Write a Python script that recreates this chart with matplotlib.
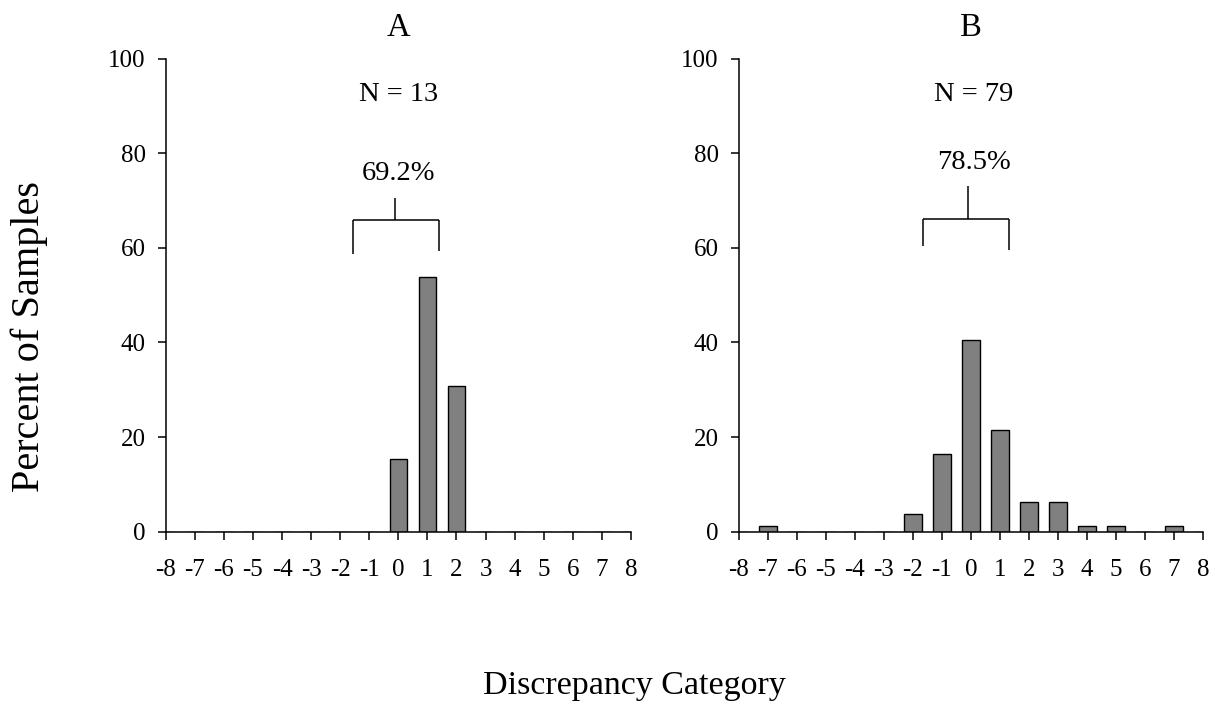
import numpy as np
import matplotlib
matplotlib.use("Agg")
import matplotlib.pyplot as plt

plt.rcParams['font.family'] = ['Liberation Serif', 'DejaVu Serif']

# discrepancy categories -8 .. 8
categories = np.arange(-8, 9)

# percent of samples per category
pct_a = [0, 0, 0, 0, 0, 0, 0, 0, 15.4, 53.8, 30.8, 0, 0, 0, 0, 0, 0]
pct_b = [0, 1.3, 0, 0, 0, 0, 3.8, 16.5, 40.5, 21.5, 6.3, 6.3, 1.3, 1.3, 0, 1.3, 0]

panel_titles = ['A', 'B']
n_labels = ['N = 13', 'N = 79']
within_labels = ['69.2%', '78.5%']

BAR_COLOR = '#808080'


def draw_bracket(ax, x0, x1, y, yl, yr, xs, ytop):
    # bracket spanning the central categories, with a stem up to the label
    kw = dict(color='black', lw=1.1, solid_capstyle='butt')
    ax.plot([x0, x0], [yl, y], **kw)
    ax.plot([x0, x1], [y, y], **kw)
    ax.plot([x1, x1], [y, yr], **kw)
    ax.plot([xs, xs], [y, ytop], **kw)


fig = plt.figure(figsize=(12.15, 7.06), dpi=100)
ax_a = fig.add_axes([0.1364, 0.2469, 0.3829, 0.6702])
ax_b = fig.add_axes([0.6082, 0.2469, 0.3819, 0.6702])

brackets = [(-1.55, 1.4, 65.8, 58.7, 59.4, -0.13, 70.5),
            (-1.65, 1.3, 66.0, 60.3, 59.6, -0.11, 73.1)]
# label positions (x, y of N label, y of percent label)
label_pos = [(0.0, 92.4, 75.8), (0.1, 92.4, 78.0)]

for ax, pct, title, nlab, wlab, br, lp in zip([ax_a, ax_b], [pct_a, pct_b], panel_titles,
                                              n_labels, within_labels, brackets, label_pos):
    ax.bar(categories, pct, width=0.6, color=BAR_COLOR, edgecolor='black', linewidth=1.0)
    ax.set_xlim(-8, 8)
    ax.set_ylim(0, 100)
    ax.set_xticks(categories)
    ax.set_xticklabels([str(c) for c in categories])
    ax.set_yticks([0, 20, 40, 60, 80, 100])
    for side in ['top', 'right']:
        ax.spines[side].set_visible(False)
    for side in ['left', 'bottom']:
        ax.spines[side].set_linewidth(1.1)
    ax.tick_params(axis='x', direction='out', length=5.5, width=1.1, pad=14, labelsize=18)
    ax.tick_params(axis='y', direction='out', length=5.5, width=1.1, pad=9, labelsize=18)
    ax.set_title(title, fontsize=23.5, pad=16)
    ax.text(lp[0], lp[1], nlab, ha='center', va='center', fontsize=20.5)
    ax.text(lp[0], lp[2], wlab, ha='center', va='center', fontsize=20.5)
    draw_bracket(ax, *br)

fig.text(0.024, 0.523, 'Percent of Samples', rotation=90, ha='center', va='center', fontsize=29)
fig.text(0.522, 0.017, 'Discrepancy Category', ha='center', va='baseline', fontsize=24.5)

fig.savefig('out.png', dpi=100, facecolor='white')
